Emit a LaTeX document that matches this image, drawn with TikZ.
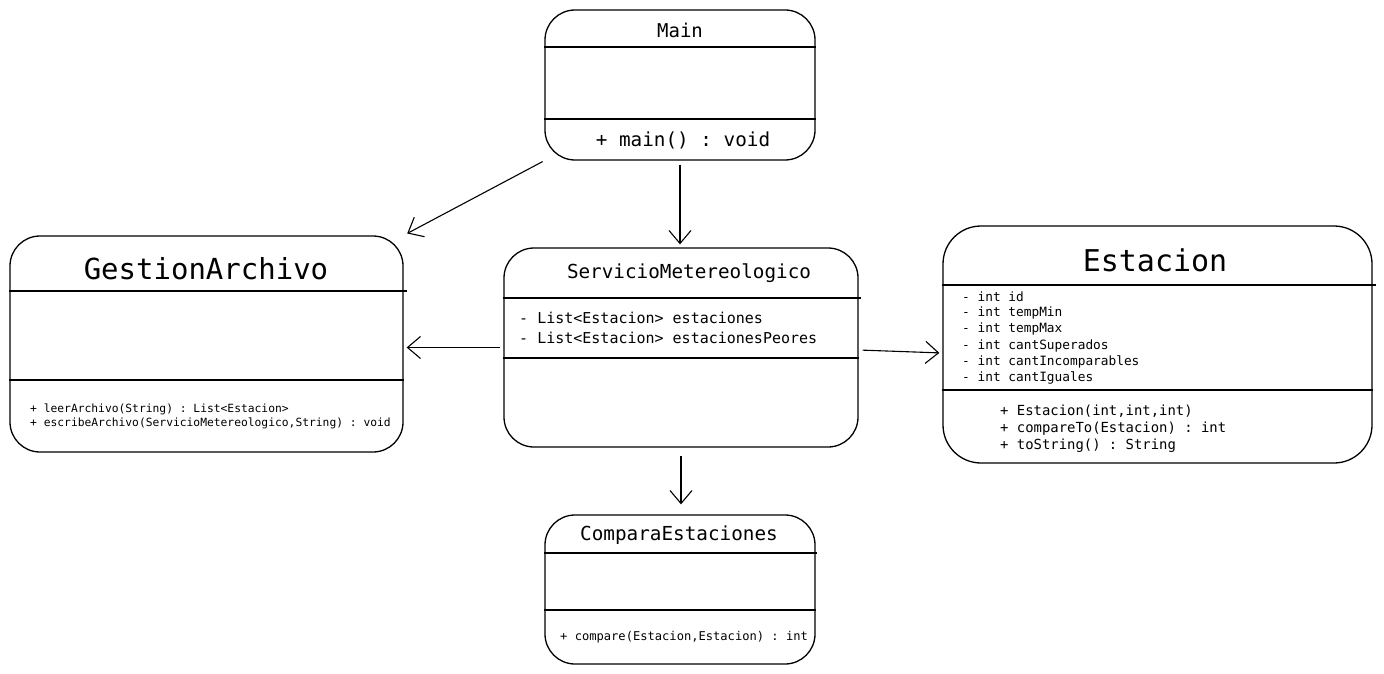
\documentclass[tikz,border=0pt]{standalone}
\usepackage{fontspec}
\setmonofont{DejaVu Sans Mono}
\usetikzlibrary{arrows.meta}
\begin{document}
\begin{tikzpicture}[x=1pt,y=-1pt,
  umlbox/.style={draw=black, line width=1.3pt, rounded corners=30pt, fill=white, inner sep=0pt},
  divider/.style={draw=black, line width=1.2pt},
  txt/.style={inner sep=0pt, font=\ttfamily, text=black},
  lt/.style={txt, anchor=west},
  arr/.style={draw=black, line width=1.1pt, -{Straight Barb[length=13pt,width=22pt,line width=1.1pt]}},
  fs/.style={font=\ttfamily\fontsize{#1}{#1}\selectfont}
]
\useasboundingbox (0,0) rectangle (1384,674);
\fill[white] (0,0) rectangle (1384,674);

% Boxes
\node[umlbox, minimum width=270pt, minimum height=150pt] (main) at (680,85) {};
\node[umlbox, minimum width=393pt, minimum height=216pt] (ga) at (206.5,344) {};
\node[umlbox, minimum width=354pt, minimum height=199pt] (sm) at (681,347.5) {};
\node[umlbox, minimum width=429pt, minimum height=237pt, rounded corners=38pt] (est) at (1157.5,344.5) {};
\node[umlbox, minimum width=270pt, minimum height=149pt] (ce) at (680,589.5) {};

% Dividers
\draw[divider] (main.west |- 0,47) -- (main.east |- 0,47);
\draw[divider] (main.west |- 0,119) -- (main.east |- 0,119);
\draw[divider] (ga.west |- 0,291) -- ([xshift=3pt]ga.east |- 0,291);
\draw[divider] (ga.west |- 0,380) -- (ga.east |- 0,380);
\draw[divider] (sm.west |- 0,298) -- ([xshift=2pt]sm.east |- 0,298);
\draw[divider] (sm.west |- 0,358) -- (sm.east |- 0,358);
\draw[divider] (est.west |- 0,285) -- ([xshift=3pt]est.east |- 0,285);
\draw[divider] (est.west |- 0,390) -- (est.east |- 0,390);
\draw[divider] (ce.west |- 0,553) -- ([xshift=1pt]ce.east |- 0,553);
\draw[divider] (ce.west |- 0,610) -- (ce.east |- 0,610);

% Texts
\node[txt, fs=19] (tmain) at (680,30) {Main};
\node[txt, fs=19.3] (mmain) at (683,140) {+ main() : void};

\node[txt, fs=29] (tga) at (206,269) {GestionArchivo};
\node[lt, fs=11.3] (ga1) at (30,409) {+ leerArchivo(String) : List<Estacion>};
\node[lt, fs=11.3] (ga2) at (30,423) {+ escribeArchivo(ServicioMetereologico,String) : void};

\node[txt, fs=19.3] (tsm) at (689,273) {ServicioMetereologico};
\node[lt, fs=15] (sm1) at (519,318) {- List<Estacion> estaciones};
\node[lt, fs=15] (sm2) at (519,338) {- List<Estacion> estacionesPeores};

\node[txt, fs=30] (test) at (1155,260) {Estacion};
\node[lt, fs=12.8] (e1) at (962,297) {- int id};
\node[lt, fs=12.8] (e2) at (962,313) {- int tempMin};
\node[lt, fs=12.8] (e3) at (962,329) {- int tempMax};
\node[lt, fs=12.8] (e4) at (962,345.5) {- int cantSuperados};
\node[lt, fs=12.8] (e5) at (962,361.5) {- int cantIncomparables};
\node[lt, fs=12.8] (e6) at (962,378) {- int cantIguales};
\node[lt, fs=13.9] (e7) at (1000,411) {+ Estacion(int,int,int)};
\node[lt, fs=13.9] (e8) at (1000,429) {+ compareTo(Estacion) : int};
\node[lt, fs=13.9] (e9) at (1000,446) {+ toString() : String};

\node[txt, fs=19.3] (tce) at (679,535) {ComparaEstaciones};
\node[lt, fs=12.1] (ce1) at (560,637) {+ compare(Estacion,Estacion) : int};

% Connectors
\draw[arr, shorten <=2pt, shorten >=4pt] (main.south west) -- (ga.north east);
\draw[arr, shorten <=4pt, shorten >=3pt] (main.south) -- (sm.north -| main.south);
\draw[arr, shorten <=3pt, shorten >=3pt] (sm.west) -- (sm.west -| ga.east);
\draw[arr, shorten <=4pt, shorten >=3pt] ([yshift=-2.5pt]sm.east) -- ([yshift=-8.5pt]est.west);
\draw[arr, shorten <=8pt, shorten >=10pt] (sm.south) -- (ce.north -| sm.south);
\end{tikzpicture}
\end{document}
